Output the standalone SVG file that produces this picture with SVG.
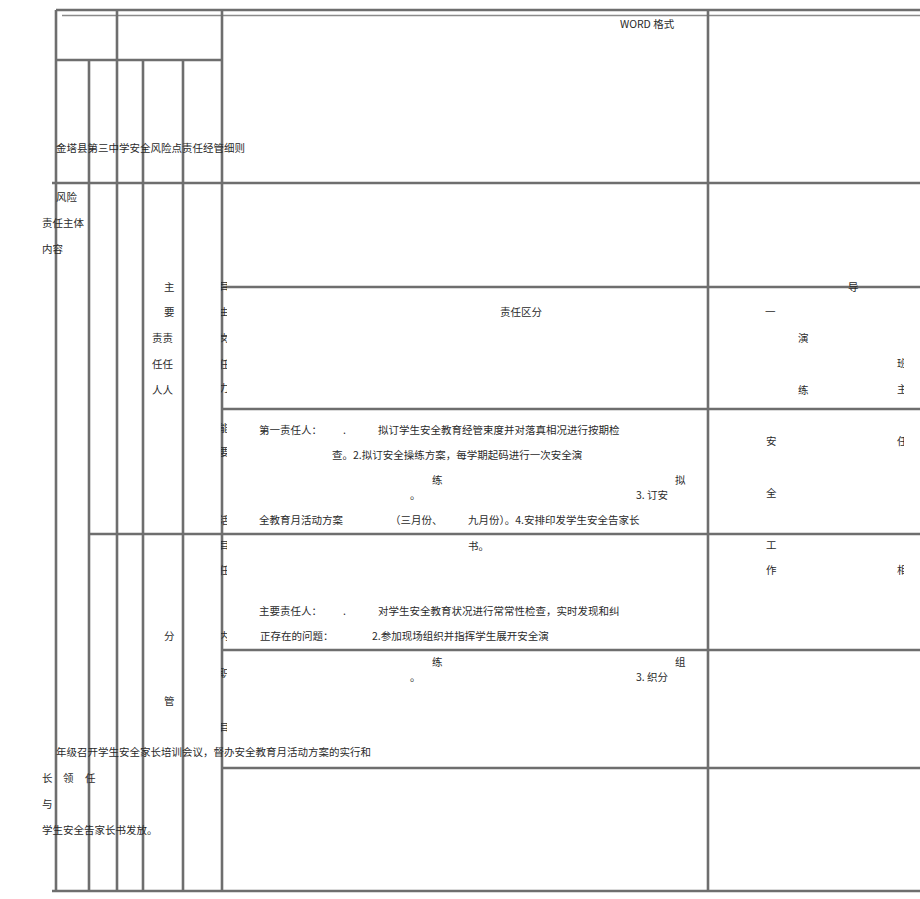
<svg xmlns="http://www.w3.org/2000/svg" width="920" height="899" viewBox="0 0 920 899">
<style>
.ln{stroke:#6e6e6e;stroke-width:2.6;fill:none}
.thin{stroke:#8a8a8a;stroke-width:1.4;fill:none}
text{font-family:"Noto Sans CJK SC","Noto Sans",sans-serif;font-size:10.5px;fill:#2a2a2a}
</style>
<defs>
<clipPath id="cl"><rect x="221" y="0" width="6" height="899"/></clipPath>
<clipPath id="cr"><rect x="890" y="0" width="14" height="899"/></clipPath>
</defs>
<rect width="920" height="899" fill="#fff"/>
<g id="grid">
<line class="ln" x1="56" y1="10" x2="920" y2="10"/>
<line class="thin" x1="62" y1="15.5" x2="920" y2="15.5"/>
<line class="ln" x1="56" y1="60" x2="222" y2="60"/>
<line class="ln" x1="52" y1="183" x2="920" y2="183"/>
<line class="ln" x1="222" y1="287" x2="920" y2="287"/>
<line class="ln" x1="222" y1="409" x2="920" y2="409"/>
<line class="ln" x1="89" y1="534" x2="920" y2="534"/>
<line class="ln" x1="222" y1="650" x2="920" y2="650"/>
<line class="ln" x1="222" y1="768" x2="920" y2="768"/>
<line class="ln" x1="52" y1="891" x2="920" y2="891"/>
<line class="ln" x1="56" y1="10" x2="56" y2="891"/>
<line class="ln" x1="117" y1="10" x2="117" y2="891"/>
<line class="ln" x1="222" y1="10" x2="222" y2="891"/>
<line class="ln" x1="708" y1="10" x2="708" y2="891"/>
<line class="ln" x1="89" y1="60" x2="89" y2="891"/>
<line class="ln" x1="143" y1="60" x2="143" y2="891"/>
<line class="ln" x1="183" y1="60" x2="183" y2="891"/>
</g>
<g id="header">
<text x="620" y="28">WORD 格式</text>
</g>
<g id="title">
<text x="56" y="152">金塔县第三中学安全风险点责任经管细则</text>
</g>
<g id="left-labels">
<text x="56" y="201">风险</text>
<text x="42" y="227">责任主体</text>
<text x="42" y="253">内容</text>
<text x="164" y="291">主</text>
<text x="164" y="316">要</text>
<text x="152" y="342">责责</text>
<text x="152" y="368">任任</text>
<text x="152" y="394">人人</text>
<text x="164" y="640">分</text>
<text x="164" y="705">管</text>
<text x="56" y="756">年级召开学生安全家长培训会议，督办安全教育月活动方案的实行和</text>
<text x="42" y="782">长</text>
<text x="63" y="782">领</text>
<text x="85" y="782">任</text>
<text x="42" y="808">与</text>
<text x="42" y="834">学生安全告家长书发放。</text>
</g>
<g id="clipped-left" clip-path="url(#cl)">
<text x="219" y="290">目</text>
<text x="219" y="316">由</text>
<text x="219" y="342">岗</text>
<text x="219" y="368">任</text>
<text x="219" y="392">力</text>
<text x="219" y="432">能</text>
<text x="219" y="456">要</text>
<text x="219" y="524">活</text>
<text x="219" y="549">目</text>
<text x="219" y="574">任</text>
<text x="219" y="640">内</text>
<text x="219" y="677">职</text>
<text x="219" y="731">目</text>
</g>
<g id="content">
<text x="500" y="316">责任区分</text>
<text x="259" y="434">第一责任人：</text>
<text x="343" y="434">.</text>
<text x="378" y="434">拟订学生安全教育经管束度并对落真相况进行按期检</text>
<text x="332" y="459">查。2.拟订安全操练方案，每学期起码进行一次安全演</text>
<text x="432" y="484">练</text>
<text x="675" y="484">拟</text>
<text x="410" y="499">。</text>
<text x="636" y="499">3. 订安</text>
<text x="259" y="524">全教育月活动方案</text>
<text x="390" y="524">（三月份、</text>
<text x="468" y="524">九月份）。4.安排印发学生安全告家长</text>
<text x="468" y="550">书。</text>
<text x="259" y="615">主要责任人：</text>
<text x="343" y="615">.</text>
<text x="378" y="615">对学生安全教育状况进行常常性检查，实时发现和纠</text>
<text x="260" y="640">正存在的问题：</text>
<text x="372" y="640">2.参加现场组织并指挥学生展开安全演</text>
<text x="432" y="666">练</text>
<text x="675" y="666">组</text>
<text x="410" y="681">。</text>
<text x="636" y="681">3. 织分</text>
</g>
<g id="right-col">
<text x="848" y="291">导</text>
<text x="765" y="316">一</text>
<text x="798" y="342">演</text>
<text x="798" y="394">练</text>
<text x="766" y="445">安</text>
<text x="766" y="497">全</text>
<text x="766" y="549">工</text>
<text x="766" y="574">作</text>
</g>
<g id="clipped-right" clip-path="url(#cr)">
<text x="897" y="367">班</text>
<text x="897" y="393">主</text>
<text x="897" y="445">任</text>
<text x="897" y="574">相</text>
</g>
</svg>
